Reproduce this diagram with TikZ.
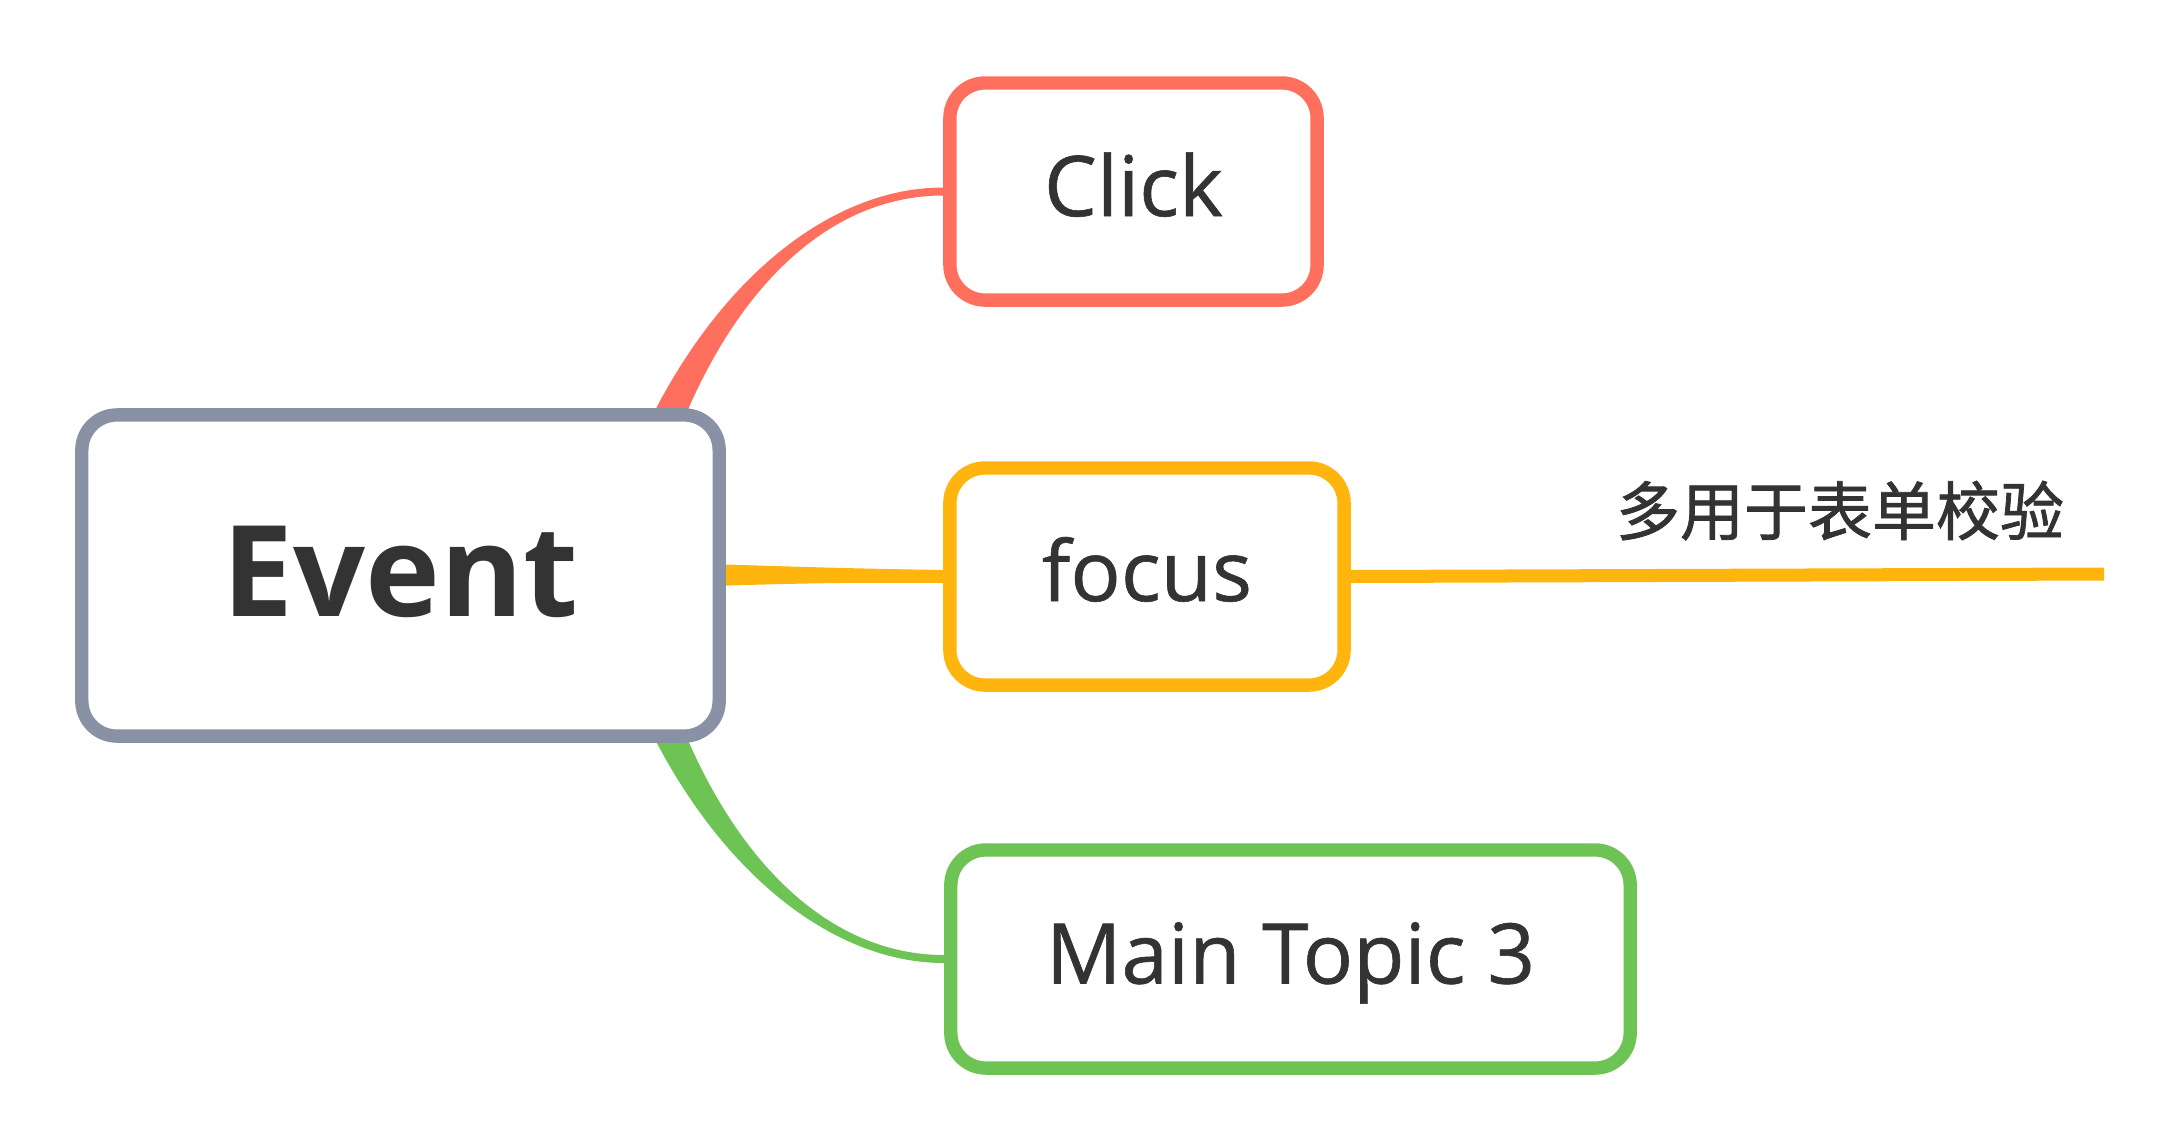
\documentclass[tikz,border=0pt]{standalone}
\usepackage{fontspec}
\setmainfont{Open Sans}
\newfontfamily\topicfont[FakeBold=0.7]{Open Sans}
\newfontfamily\cjk[FakeBold=1.2]{Noto Sans CJK SC}
\usepackage{tikz}
\usetikzlibrary{calc,backgrounds}
\definecolor{clickc}{RGB}{255,111,94}
\definecolor{focusc}{RGB}{255,180,14}
\definecolor{topicc}{RGB}{110,195,85}
\definecolor{rootc}{RGB}{136,146,164}
\definecolor{txt}{RGB}{51,51,51}
\tikzset{
  topic/.style={draw, line width=3.8pt, rounded corners=10pt, fill=white, text=txt,
    inner sep=0pt, font=\topicfont\fontsize{23.8}{28}\selectfont,
    text height=0.66cm, text depth=0.17cm, minimum height=2.17cm},
  rootbox/.style={topic, draw=rootc, font=\fontsize{36}{43}\selectfont\bfseries,
    text height=1.04cm, text depth=0.22cm, minimum width=6.37cm, minimum height=3.21cm},
  note/.style={anchor=base, inner sep=0pt, text=txt, font=\cjk\fontsize{18.2}{22}\selectfont}
}

\begin{document}
\begin{tikzpicture}[x=0.01cm,y=-0.01cm]
  \useasboundingbox (0,0) rectangle (2175,1144);
  \node[rootbox] (event) at (400.5,575.5) {Event};
  \node[topic, draw=clickc, minimum width=3.67cm] (click) at (1133.5,191.5) {Click};
  \node[topic, draw=focusc, minimum width=3.94cm] (focus) at (1147,576.5) {focus};
  \node[topic, draw=topicc, minimum width=6.79cm, minimum height=2.18cm] (topic3) at (1290.5,959) {Main Topic 3};
  \node[note] (note) at (1840,535) {多用于表单校验};
  \coordinate (root) at (615,575);
  \coordinate (noteend) at (2104,574);

% tapered branches, under the boxes
\begin{scope}[on background layer]
  \fill[clickc] ($(root)+(-22,0)$) .. controls (656,330) and ($(click.west)+(-140,-4)$) .. ($(click.west)+(0,-4)$)
    -- ($(click.west)+(0,4)$) .. controls ($(click.west)+(-140,4)$) and (686,335) .. ($(root)+(22,0)$) -- cycle;
  \fill[focusc] ($(root)+(0,-14)$) .. controls (780,566) and (820,568) .. ($(focus.west)+(0,-6.5)$)
    -- ($(focus.west)+(0,6.5)$) .. controls (820,582) and (780,584) .. ($(root)+(0,14)$) -- cycle;
  \fill[topicc] ($(root)+(-22,0)$) .. controls (656,820) and ($(topic3.west)+(-140,4)$) .. ($(topic3.west)+(0,4)$)
    -- ($(topic3.west)+(0,-4)$) .. controls ($(topic3.west)+(-140,-4)$) and (686,815) .. ($(root)+(22,0)$) -- cycle;
  \draw[focusc, line width=3.7pt] (focus.east) -- (noteend);
\end{scope}
\end{tikzpicture}
\end{document}
